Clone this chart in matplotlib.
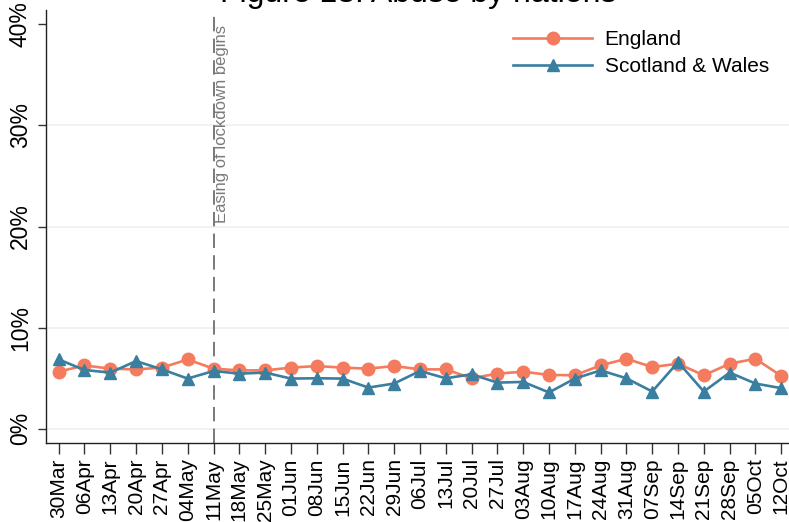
import matplotlib
matplotlib.use("Agg")
import matplotlib.pyplot as plt
import numpy as np

plt.rcParams['font.family'] = ['Liberation Sans', 'DejaVu Sans']

weeks = ["30Mar", "06Apr", "13Apr", "20Apr", "27Apr", "04May", "11May", "18May",
         "25May", "01Jun", "08Jun", "15Jun", "22Jun", "29Jun", "06Jul", "13Jul",
         "20Jul", "27Jul", "03Aug", "10Aug", "17Aug", "24Aug", "31Aug", "07Sep",
         "14Sep", "21Sep", "28Sep", "05Oct", "12Oct"]

england = [5.65, 6.27, 5.95, 5.88, 6.05, 6.86, 5.95, 5.78, 5.78, 6.05, 6.21, 6.05,
           5.95, 6.21, 5.88, 5.88, 5.00, 5.46, 5.65, 5.33, 5.30, 6.27, 6.93, 6.11,
           6.44, 5.29, 6.44, 6.93, 5.23]

scotland_wales = [6.86, 5.82, 5.56, 6.70, 5.88, 4.97, 5.72, 5.46, 5.56, 4.97, 5.00,
                  4.97, 4.08, 4.48, 5.72, 5.00, 5.39, 4.57, 4.64, 3.60, 4.97, 5.78,
                  5.00, 3.69, 6.60, 3.69, 5.56, 4.48, 4.02]

yticks = [0, 10, 20, 30, 40]
event_week = "11May"
event_label = "Easing of lockdown begins"

c_eng = "#F47B5E"
c_sw = "#3A7EA0"

fig = plt.figure(figsize=(7.89, 5.22), dpi=100)
ax = fig.add_axes([0.058, 0.1513, 0.942, 0.8295])

x = np.arange(len(weeks))

for yv in yticks[:-1]:
    ax.axhline(yv, color="#EAF1F2", lw=1.2, zorder=0)

ax.plot(x, england, color=c_eng, lw=1.9, marker="o", ms=9, label="England", zorder=3)
ax.plot(x, scotland_wales, color=c_sw, lw=1.9, marker="^", ms=9,
        label="Scotland & Wales", zorder=3)

ev = weeks.index(event_week)
ax.axvline(ev, color="#6E6E6E", lw=1.3, ls=(0, (8, 4)), zorder=2)
ax.text(ev + 0.02, 39.9, event_label, rotation=90, ha="left", va="top",
        fontsize=12, color="#7A7A7A")

ax.set_xlim(-0.5, 28.3)
ax.set_ylim(-1.4, 41.4)
ax.set_xticks(x)
ax.set_xticklabels(weeks, rotation=90, fontsize=15)
ax.set_yticks(yticks)
ax.set_yticklabels([f"{v}%" for v in yticks], rotation=90, va="center", fontsize=16.5)
ax.tick_params(axis="x", direction="out", length=8, width=1, pad=3, color="#333333")
ax.tick_params(axis="y", direction="out", length=6, width=1, pad=4, color="#333333")

for s in ("top", "right"):
    ax.spines[s].set_visible(False)
for s in ("left", "bottom"):
    ax.spines[s].set_color("#222222")
    ax.spines[s].set_linewidth(1.0)

leg = ax.legend(loc="upper left", bbox_to_anchor=(513 / 789, 1 - 30 / 522),
                bbox_transform=fig.transFigure, frameon=False, fontsize=15,
                handlelength=3.8, handletextpad=0.6, labelspacing=0.4,
                borderpad=0, borderaxespad=0)

fig.text(418 / 789, 1 - 2 / 522, "Figure 13: Abuse by nations", ha="center",
         va="baseline", fontsize=23)

fig.savefig("out.png", dpi=100)
